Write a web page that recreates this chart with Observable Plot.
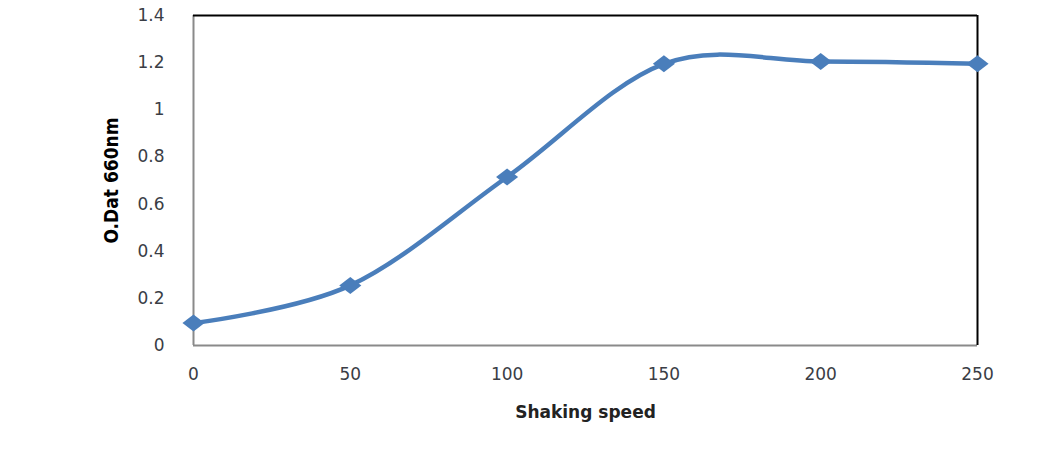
<!DOCTYPE html>
<html>
<head>
<meta charset="utf-8">
<script src="https://cdn.jsdelivr.net/npm/d3@7"></script>
<script src="https://cdn.jsdelivr.net/npm/@observablehq/plot@0.6"></script>
<style>
  html, body { margin: 0; padding: 0; background: #fff; }
</style>
</head>
<body>
<div id="chart"></div>
<script>
const speeds = [0, 50, 100, 150, 200, 250];
const odValues = [0.095, 0.255, 0.715, 1.195, 1.205, 1.195];
const xTicks = [0, 50, 100, 150, 200, 250];
const yTicks = [0, 0.2, 0.4, 0.6, 0.8, 1, 1.2, 1.4];
const xTitle = "Shaking speed";
const yTitle = "O.Dat 660nm";

const data = speeds.map((s, i) => ({speed: s, od: odValues[i]}));
const lineColor = "#4a7ebb";
const tickColor = "#3a3d45";

// wide diamond marker (Excel-style, slightly stretched horizontally)
const wideDiamond = {
  draw(context, size) {
    const r = Math.sqrt(size / Math.PI);
    const w = r * 1.3;
    context.moveTo(-w, 0);
    context.lineTo(0, -r);
    context.lineTo(w, 0);
    context.lineTo(0, r);
    context.closePath();
  }
};

const chart = Plot.plot({
  width: 1041,
  height: 470,
  marginLeft: 193,
  marginRight: 64,
  marginTop: 15,
  marginBottom: 125,
  style: {fontFamily: "'DejaVu Sans', Verdana, sans-serif", background: "#fff"},
  x: {domain: [0, 250]},
  y: {domain: [0, 1.4]},
  marks: [
    Plot.axisX({ticks: xTicks, tickSize: 0, tickPadding: 22, fontSize: 17, color: tickColor, label: null, tickFormat: d => String(d)}),
    Plot.axisY({ticks: yTicks, tickSize: 0, tickPadding: 29, fontSize: 17, color: tickColor, label: null, tickFormat: d => String(d)}),
    Plot.ruleX([0], {stroke: "#8a8a8a", strokeWidth: 2}),
    Plot.ruleY([0], {stroke: "#8a8a8a", strokeWidth: 2}),
    Plot.ruleY([1.4], {stroke: "#000", strokeWidth: 2}),
    Plot.ruleX([250], {stroke: "#000", strokeWidth: 2}),
    Plot.line(data, {x: "speed", y: "od", curve: "cardinal", tension: 0, stroke: lineColor, strokeWidth: 4.5}),
    Plot.dot(data, {x: "speed", y: "od", symbol: wideDiamond, r: 8.5, fill: lineColor, stroke: "none"}),
    Plot.text([xTitle], {frameAnchor: "bottom", dy: 72, fontSize: 17, fontWeight: "bold", fill: "#222", fontFamily: "'DejaVu Sans', Verdana, sans-serif"}),
    Plot.text([yTitle], {frameAnchor: "left", textAnchor: "middle", dx: -82, rotate: -90, fontSize: 19, fontWeight: "bold", fill: "#000", fontFamily: "'DejaVu Sans Condensed', 'DejaVu Sans', sans-serif"})
  ]
});
document.getElementById("chart").appendChild(chart);
</script>
</body>
</html>
